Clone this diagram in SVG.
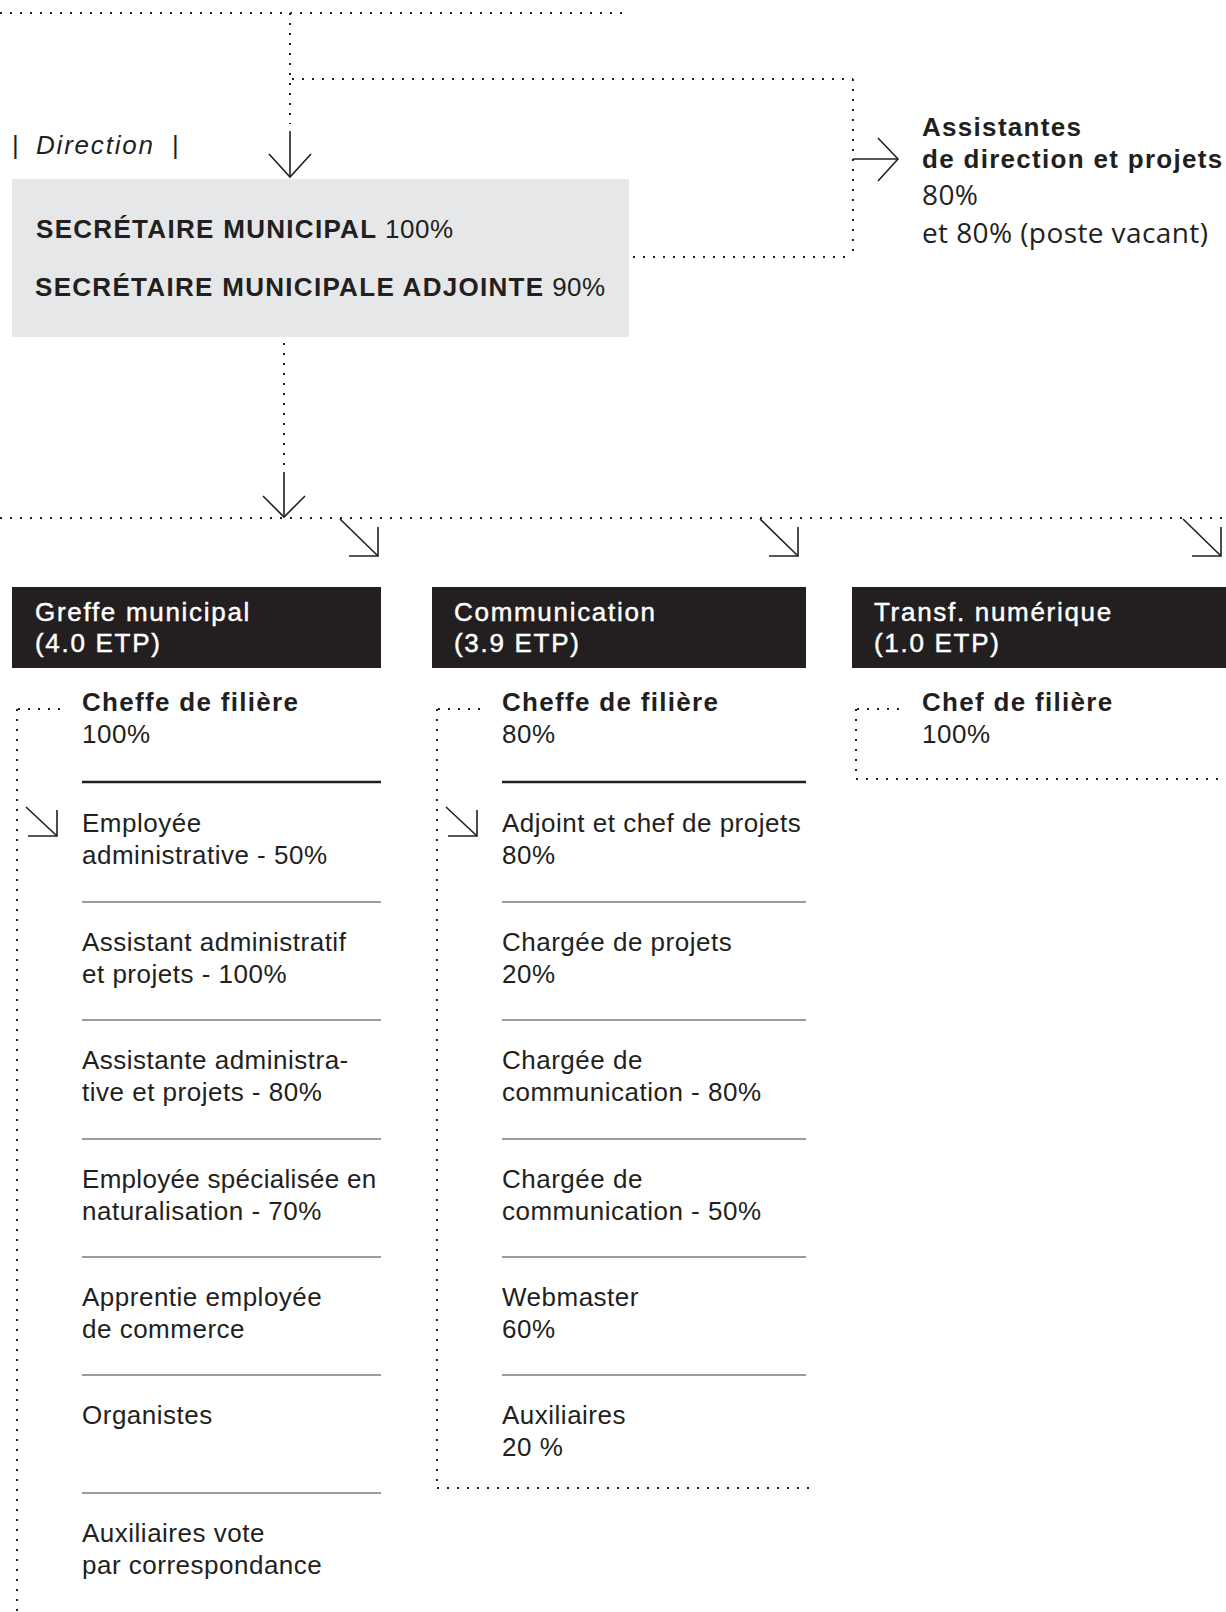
<svg xmlns="http://www.w3.org/2000/svg" width="1226" height="1612" viewBox="0 0 1226 1612">
<style>
.dot{stroke:#231f20;stroke-width:2;stroke-dasharray:2 8;fill:none}
.arr{stroke:#231f20;stroke-width:1.6;fill:none}
.t{font-family:"Liberation Sans",Arial,sans-serif;font-size:26px;fill:#231f20;letter-spacing:0.5px}
.b{font-weight:bold;letter-spacing:1.3px}
.h{font-family:"Liberation Sans",Arial,sans-serif;font-size:26px;fill:#ffffff;stroke:#ffffff;stroke-width:0.45px;letter-spacing:1.7px}
.m{font-family:"Open Sans","Noto Sans",sans-serif;font-size:28px;fill:#231f20;letter-spacing:0.4px}
.sep0{stroke:#231f20;stroke-width:2.5}
.sep{stroke:#7d7d7f;stroke-width:1.5}
.box{fill:#231f20}
</style>
<g id="connectors">
  <line class="dot" x1="0" y1="13" x2="626" y2="13"/>
  <line class="dot" x1="290" y1="13" x2="290" y2="124"/>
  <line class="arr" x1="290" y1="131" x2="290" y2="177"/>
  <polyline class="arr" points="269,154 290,177 311,154"/>
  <line class="dot" x1="292" y1="79" x2="853" y2="79"/>
  <line class="dot" x1="853" y1="79" x2="853" y2="257"/>
  <line class="dot" x1="633" y1="257" x2="853" y2="257"/>
  <line class="arr" x1="853" y1="159" x2="898" y2="159"/>
  <polyline class="arr" points="878,138 898,159 878,181"/>
  <line class="dot" x1="284" y1="343" x2="284" y2="466"/>
  <line class="arr" x1="284" y1="472" x2="284" y2="517"/>
  <polyline class="arr" points="263,496 284,517 305,496"/>
  <line class="dot" x1="0" y1="518" x2="1226" y2="518"/>
  <line class="arr" x1="340" y1="519" x2="378" y2="556"/>
  <polyline class="arr" points="349,556 378,556 378,527"/>
  <line class="arr" x1="760" y1="519" x2="798" y2="556"/>
  <polyline class="arr" points="769,556 798,556 798,527"/>
  <line class="arr" x1="1183" y1="519" x2="1221" y2="556"/>
  <polyline class="arr" points="1192,556 1221,556 1221,527"/>
  <line class="dot" x1="18" y1="709" x2="62" y2="709"/>
  <line class="dot" x1="17" y1="709" x2="17" y2="1612"/>
  <line class="arr" x1="26" y1="807" x2="57" y2="836"/>
  <polyline class="arr" points="28,836 57,836 57,810"/>
  <line class="dot" x1="438" y1="709" x2="482" y2="709"/>
  <line class="dot" x1="437" y1="709" x2="437" y2="1488"/>
  <line class="dot" x1="437" y1="1488" x2="812" y2="1488"/>
  <line class="arr" x1="446" y1="807" x2="477" y2="836"/>
  <polyline class="arr" points="448,836 477,836 477,810"/>
  <line class="dot" x1="857" y1="709" x2="901" y2="709"/>
  <line class="dot" x1="856" y1="709" x2="856" y2="779"/>
  <line class="dot" x1="856" y1="779" x2="1226" y2="779"/>
</g>
<g id="direction-label">
  <text x="12" y="154" class="t">|</text>
  <text x="36" y="154" class="t" font-style="italic" style="letter-spacing:1.8px">Direction</text>
  <text x="172" y="154" class="t">|</text>
</g>
<g id="node-direction">
  <rect x="12" y="179" width="617" height="158" fill="#e6e7e8"/>
  <text x="36" y="238" class="t"><tspan class="b">SECRÉTAIRE MUNICIPAL</tspan> 100%</text>
  <text x="35" y="296" class="t"><tspan class="b">SECRÉTAIRE MUNICIPALE ADJOINTE</tspan> 90%</text>
</g>
<g id="node-assistantes">
  <text x="922" y="136" class="t b">Assistantes</text>
  <text x="922" y="168" class="t b">de direction et projets</text>
  <text x="922" y="205" class="m">80%</text>
  <text x="922" y="243" class="m">et 80% (poste vacant)</text>
</g>
<g id="node-greffe">
  <rect class="box" x="12" y="587" width="369" height="81"/>
  <text x="35" y="621" class="h">Greffe municipal</text>
  <text x="35" y="652" class="h">(4.0 ETP)</text>
  <text x="82" y="711" class="t b">Cheffe de filière</text>
  <text x="82" y="743" class="t">100%</text>
  <line class="sep0" x1="82" y1="782" x2="381" y2="782"/>
  <text x="82" y="832" class="t">Employée</text>
  <text x="82" y="864" class="t">administrative - 50%</text>
  <line class="sep" x1="82" y1="902" x2="381" y2="902"/>
  <text x="82" y="951" class="t">Assistant administratif</text>
  <text x="82" y="983" class="t">et projets - 100%</text>
  <line class="sep" x1="82" y1="1020" x2="381" y2="1020"/>
  <text x="82" y="1069" class="t">Assistante administra-</text>
  <text x="82" y="1101" class="t">tive et projets - 80%</text>
  <line class="sep" x1="82" y1="1139" x2="381" y2="1139"/>
  <text x="82" y="1188" class="t" style="letter-spacing:0.3px">Employée spécialisée en</text>
  <text x="82" y="1220" class="t">naturalisation - 70%</text>
  <line class="sep" x1="82" y1="1257" x2="381" y2="1257"/>
  <text x="82" y="1306" class="t">Apprentie employée</text>
  <text x="82" y="1338" class="t">de commerce</text>
  <line class="sep" x1="82" y1="1375" x2="381" y2="1375"/>
  <text x="82" y="1424" class="t">Organistes</text>
  <line class="sep" x1="82" y1="1493" x2="381" y2="1493"/>
  <text x="82" y="1542" class="t">Auxiliaires vote</text>
  <text x="82" y="1574" class="t">par correspondance</text>
</g>
<g id="node-communication">
  <rect class="box" x="432" y="587" width="374" height="81"/>
  <text x="454" y="621" class="h">Communication</text>
  <text x="454" y="652" class="h">(3.9 ETP)</text>
  <text x="502" y="711" class="t b">Cheffe de filière</text>
  <text x="502" y="743" class="t">80%</text>
  <line class="sep0" x1="502" y1="782" x2="806" y2="782"/>
  <text x="502" y="832" class="t">Adjoint et chef de projets</text>
  <text x="502" y="864" class="t">80%</text>
  <line class="sep" x1="502" y1="902" x2="806" y2="902"/>
  <text x="502" y="951" class="t">Chargée de projets</text>
  <text x="502" y="983" class="t">20%</text>
  <line class="sep" x1="502" y1="1020" x2="806" y2="1020"/>
  <text x="502" y="1069" class="t">Chargée de</text>
  <text x="502" y="1101" class="t">communication - 80%</text>
  <line class="sep" x1="502" y1="1139" x2="806" y2="1139"/>
  <text x="502" y="1188" class="t">Chargée de</text>
  <text x="502" y="1220" class="t">communication - 50%</text>
  <line class="sep" x1="502" y1="1257" x2="806" y2="1257"/>
  <text x="502" y="1306" class="t">Webmaster</text>
  <text x="502" y="1338" class="t">60%</text>
  <line class="sep" x1="502" y1="1375" x2="806" y2="1375"/>
  <text x="502" y="1424" class="t">Auxiliaires</text>
  <text x="502" y="1456" class="t">20 %</text>
</g>
<g id="node-numerique">
  <rect class="box" x="852" y="587" width="374" height="81"/>
  <text x="874" y="621" class="h">Transf. numérique</text>
  <text x="874" y="652" class="h">(1.0 ETP)</text>
  <text x="922" y="711" class="t b">Chef de filière</text>
  <text x="922" y="743" class="t">100%</text>
</g>
</svg>
